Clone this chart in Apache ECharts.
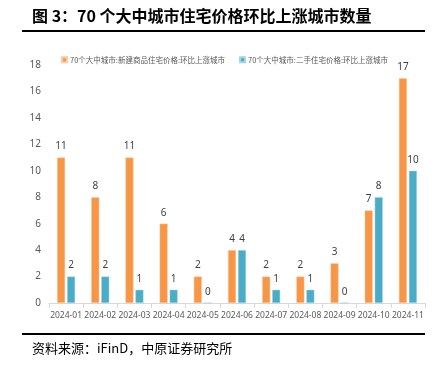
<!DOCTYPE html>
<html><head><meta charset="utf-8">
<script src="https://cdn.jsdelivr.net/npm/echarts@6/dist/echarts.min.js"></script>
<style>html,body{margin:0;padding:0;background:#fff;}#c{width:432px;height:369px;}</style>
</head><body><div id="c"></div>
<script>
const categories = ['2024-01','2024-02','2024-03','2024-04','2024-05','2024-06','2024-07','2024-08','2024-09','2024-10','2024-11'];
const newHomes = [11, 8, 11, 6, 2, 4, 2, 2, 3, 7, 17];
const usedHomes = [2, 2, 1, 1, 0, 4, 1, 1, 0, 8, 10];
const seriesNames = ['70个大中城市:新建商品住宅价格:环比上涨城市', '70个大中城市:二手住宅价格:环比上涨城市'];
const titleText = '图 3：70 个大中城市住宅价格环比上涨城市数量';
const sourceText = '资料来源：iFinD，中原证券研究所';

const chart = echarts.init(document.getElementById('c'));
const lbl = {show:true, position:'top', color:'#404040', fontSize:10, distance:6, fontFamily:'Noto Sans'};
chart.setOption({
  animation:false,
  backgroundColor:'#fff',
  graphic:[
    {type:'text', left:32, top:8, style:{text:titleText, font:'bold 16px "Noto Sans CJK SC"', fill:'#000'}},
    {type:'rect', shape:{x:22, y:30, width:403, height:2}, style:{fill:'#000'}},
    {type:'rect', shape:{x:22, y:333, width:403, height:2}, style:{fill:'#000'}},
    {type:'text', left:32, top:342, style:{text:sourceText, font:'13px "Noto Sans CJK SC"', fill:'#000'}}
  ],
  legend:{
    top:51, left:56, width:400, itemWidth:5, itemHeight:5, itemGap:14,
    icon:'rect',
    textStyle:{fontSize:7.5, color:'#595959', fontFamily:'Noto Sans CJK SC', padding:[0,0,0,-2]},
    data:seriesNames
  },
  grid:{left:49, right:7, top:65, bottom:66},
  xAxis:{
    type:'category', data:categories,
    axisLine:{lineStyle:{color:'#d9d9d9'}},
    axisTick:{show:true, alignWithLabel:false, lineStyle:{color:'#d9d9d9'}},
    axisLabel:{color:'#595959', fontSize:8.5, margin:8, interval:0, fontFamily:'Noto Sans'}
  },
  yAxis:{
    type:'value', min:0, max:18, interval:2,
    axisLine:{show:false}, axisTick:{show:false}, splitLine:{show:false},
    axisLabel:{color:'#595959', fontSize:10, margin:8, fontFamily:'Noto Sans'}
  },
  series:[
    {name:seriesNames[0], type:'bar', data:newHomes, barWidth:8, barGap:'25%',
     itemStyle:{color:'#F79646', borderColor:'#FBC9A2', borderWidth:0.5}, label:lbl},
    {name:seriesNames[1], type:'bar', data:usedHomes, barWidth:8, barGap:'25%',
     itemStyle:{color:'#4BACC6', borderColor:'#A5D5E3', borderWidth:0.5}, label:lbl}
  ]
});
</script></body></html>
